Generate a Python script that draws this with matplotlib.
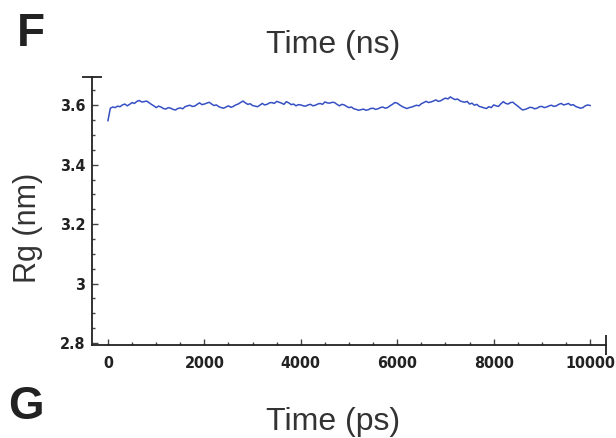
import numpy as np
import matplotlib
matplotlib.use("Agg")
import matplotlib.pyplot as plt
from matplotlib.ticker import MultipleLocator

# radius of gyration over the run, sampled every 50 ps
time_ps = np.arange(0, 10001, 50)
rg_nm = [
    3.548, 3.590, 3.594, 3.592, 3.597, 3.595, 3.601, 3.604, 3.598, 3.603,
    3.609, 3.606, 3.613, 3.616, 3.611, 3.612, 3.614, 3.609, 3.603, 3.598,
    3.592, 3.597, 3.594, 3.589, 3.587, 3.592, 3.590, 3.586, 3.584, 3.589,
    3.591, 3.588, 3.595, 3.598, 3.600, 3.596, 3.597, 3.603, 3.608, 3.602,
    3.604, 3.607, 3.610, 3.604, 3.599, 3.601, 3.595, 3.592, 3.590, 3.594,
    3.598, 3.593, 3.596, 3.601, 3.604, 3.609, 3.614, 3.608, 3.603, 3.605,
    3.599, 3.597, 3.595, 3.600, 3.606, 3.601, 3.603, 3.608, 3.609, 3.606,
    3.613, 3.610, 3.607, 3.603, 3.612, 3.608, 3.602, 3.604, 3.598, 3.602,
    3.601, 3.598, 3.597, 3.601, 3.603, 3.598, 3.600, 3.604, 3.606, 3.603,
    3.611, 3.608, 3.607, 3.610, 3.609, 3.603, 3.598, 3.603, 3.601, 3.596,
    3.592, 3.594, 3.588, 3.586, 3.583, 3.585, 3.587, 3.583, 3.585, 3.589,
    3.590, 3.586, 3.588, 3.592, 3.594, 3.590, 3.592, 3.598, 3.603, 3.609,
    3.607, 3.601, 3.596, 3.592, 3.589, 3.592, 3.594, 3.597, 3.600, 3.598,
    3.605, 3.609, 3.613, 3.609, 3.611, 3.614, 3.618, 3.613, 3.615, 3.620,
    3.624, 3.621, 3.628, 3.623, 3.619, 3.621, 3.615, 3.612, 3.610, 3.613,
    3.604, 3.607, 3.600, 3.603, 3.596, 3.594, 3.591, 3.589, 3.595, 3.592,
    3.601, 3.598, 3.596, 3.605, 3.612, 3.606, 3.604, 3.609, 3.610, 3.603,
    3.597, 3.590, 3.584, 3.586, 3.589, 3.593, 3.592, 3.588, 3.590, 3.595,
    3.596, 3.592, 3.594, 3.598, 3.600, 3.596, 3.598, 3.603, 3.606, 3.601,
    3.603, 3.606, 3.600, 3.602, 3.596, 3.593, 3.590, 3.592, 3.598, 3.601,
    3.599,
]
ytick_vals = [2.8, 3.0, 3.2, 3.4, 3.6]
ytick_labels = ["2.8", "3", "3.2", "3.4", "3.6"]
xtick_vals = [0, 2000, 4000, 6000, 8000, 10000]

plt.rcParams['font.family'] = ['Liberation Sans', 'DejaVu Sans']

fig = plt.figure(figsize=(6.16, 4.38), dpi=100)
ax = fig.add_axes([0.1494, 0.2123, 0.8344, 0.6119])

ax.plot(time_ps, rg_nm, color='#3650c4', lw=1.1)

ax.set_xlim(-330, 10330)
ax.set_ylim(2.793, 3.695)
ax.spines['top'].set_visible(False)
ax.spines['right'].set_visible(False)
for s in ('left', 'bottom'):
    ax.spines[s].set_linewidth(1.3)
    ax.spines[s].set_color('#222222')

ax.set_xticks(xtick_vals)
ax.set_yticks(ytick_vals)
ax.set_yticklabels(ytick_labels)
ax.xaxis.set_minor_locator(MultipleLocator(500))
ax.yaxis.set_minor_locator(MultipleLocator(0.05))
ax.tick_params(which='both', direction='in', color='#444444', width=1)
ax.tick_params(which='major', length=4)
ax.tick_params(which='minor', length=2.5)
ax.tick_params(axis='x', pad=8)
ax.tick_params(axis='y', pad=5)
for lab in ax.get_xticklabels() + ax.get_yticklabels():
    lab.set_family('DejaVu Sans')
    lab.set_stretch('condensed')
    lab.set_fontweight('bold')
    lab.set_fontsize(11.5)
    lab.set_color('#222222')

# end caps on the axis lines
ax.plot([1], [0], marker='|', markersize=14, mew=1.3, color='#222222',
        transform=ax.transAxes, clip_on=False)
ax.plot([0], [1], marker='_', markersize=14, mew=1.3, color='#222222',
        transform=ax.transAxes, clip_on=False)

fig.text(0.54, 0.897, 'Time (ns)', ha='center', va='center', fontsize=23, color='#333333')
fig.text(0.54, 0.037, 'Time (ps)', ha='center', va='center', fontsize=23, color='#333333')
fig.text(0.045, 0.48, 'Rg (nm)', ha='center', va='center', rotation=90, fontsize=22, color='#333333')
fig.text(0.05, 0.922, 'F', ha='center', va='center', fontsize=33, fontweight='bold', color='#222222')
fig.text(0.042, 0.07, 'G', ha='center', va='center', fontsize=33, fontweight='bold', color='#222222')

fig.savefig('out.png', dpi=100)
